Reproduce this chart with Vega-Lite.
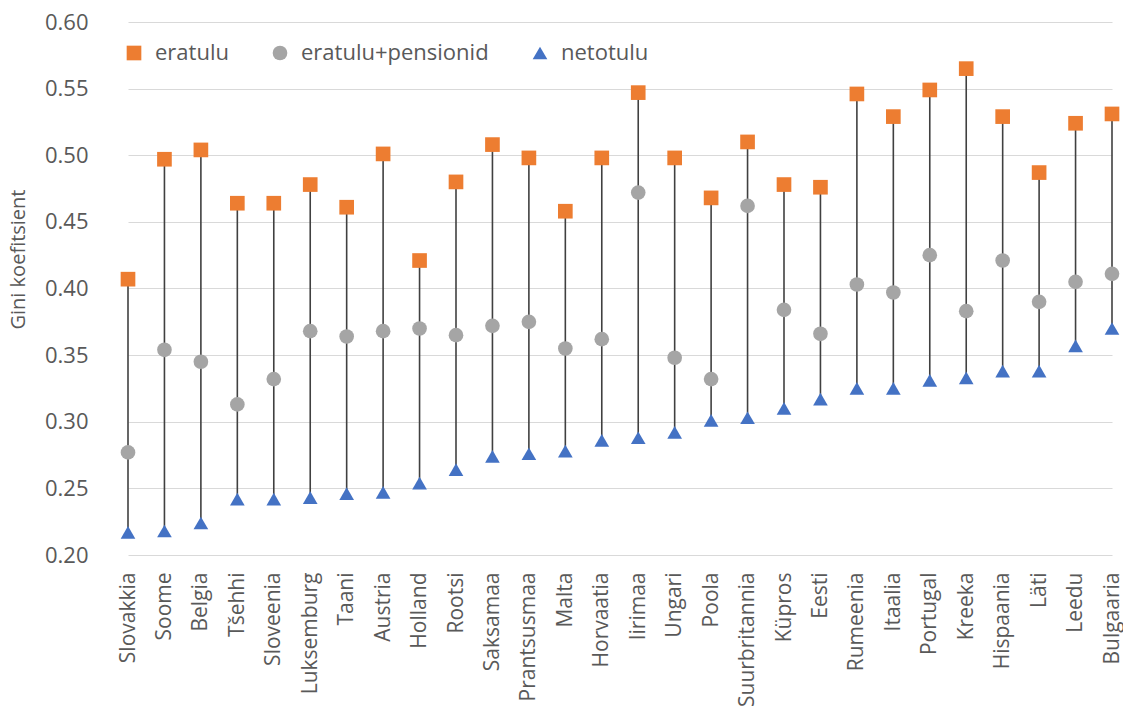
{
  "$schema": "https://vega.github.io/schema/vega-lite/v6.json",
  "width": 1013,
  "height": 533,
  "autosize": {"type": "none"},
  "padding": {"left": 110, "top": 22, "right": 0, "bottom": 152},
  "config": {
    "view": {"stroke": null},
    "font": "Open Sans",
    "axisY": {
      "grid": true, "gridColor": "#d9d9d9", "gridWidth": 1.2, "domain": false, "ticks": false,
      "labelPadding": 22, "labelFontSize": 22, "labelColor": "#595959",
      "titleFontSize": 20, "titleFontWeight": "normal", "titleColor": "#595959",
      "titleX": -92, "titleY": 237, "titleAngle": -90, "titleAlign": "center", "titleBaseline": "middle"
    },
    "axisX": {
      "grid": false, "domain": false, "ticks": false, "labelAngle": -90, "labelAlign": "right",
      "labelBaseline": "middle", "labelPadding": 17, "labelFontSize": 21, "labelColor": "#595959"
    },
    "legend": {
      "labelFontSize": 22, "labelColor": "#595959", "symbolSize": 215, "columnPadding": 40,
      "labelOffset": 10, "padding": 0, "symbolStrokeWidth": 0, "labelLimit": 0
    }
  },
  "data": {
    "values": [
      {"country": "Slovakkia", "eratulu": 0.407, "eratulu+pensionid": 0.277, "netotulu": 0.217},
      {"country": "Soome", "eratulu": 0.497, "eratulu+pensionid": 0.354, "netotulu": 0.218},
      {"country": "Belgia", "eratulu": 0.504, "eratulu+pensionid": 0.345, "netotulu": 0.224},
      {"country": "Tšehhi", "eratulu": 0.464, "eratulu+pensionid": 0.313, "netotulu": 0.242},
      {"country": "Sloveenia", "eratulu": 0.464, "eratulu+pensionid": 0.332, "netotulu": 0.242},
      {"country": "Luksemburg", "eratulu": 0.478, "eratulu+pensionid": 0.368, "netotulu": 0.243},
      {"country": "Taani", "eratulu": 0.461, "eratulu+pensionid": 0.364, "netotulu": 0.246},
      {"country": "Austria", "eratulu": 0.501, "eratulu+pensionid": 0.368, "netotulu": 0.247},
      {"country": "Holland", "eratulu": 0.421, "eratulu+pensionid": 0.370, "netotulu": 0.254},
      {"country": "Rootsi", "eratulu": 0.480, "eratulu+pensionid": 0.365, "netotulu": 0.264},
      {"country": "Saksamaa", "eratulu": 0.508, "eratulu+pensionid": 0.372, "netotulu": 0.274},
      {"country": "Prantsusmaa", "eratulu": 0.498, "eratulu+pensionid": 0.375, "netotulu": 0.276},
      {"country": "Malta", "eratulu": 0.458, "eratulu+pensionid": 0.355, "netotulu": 0.278},
      {"country": "Horvaatia", "eratulu": 0.498, "eratulu+pensionid": 0.362, "netotulu": 0.286},
      {"country": "Iirimaa", "eratulu": 0.547, "eratulu+pensionid": 0.472, "netotulu": 0.288},
      {"country": "Ungari", "eratulu": 0.498, "eratulu+pensionid": 0.348, "netotulu": 0.292},
      {"country": "Poola", "eratulu": 0.468, "eratulu+pensionid": 0.332, "netotulu": 0.301},
      {"country": "Suurbritannia", "eratulu": 0.510, "eratulu+pensionid": 0.462, "netotulu": 0.303},
      {"country": "Küpros", "eratulu": 0.478, "eratulu+pensionid": 0.384, "netotulu": 0.310},
      {"country": "Eesti", "eratulu": 0.476, "eratulu+pensionid": 0.366, "netotulu": 0.317},
      {"country": "Rumeenia", "eratulu": 0.546, "eratulu+pensionid": 0.403, "netotulu": 0.325},
      {"country": "Itaalia", "eratulu": 0.529, "eratulu+pensionid": 0.397, "netotulu": 0.325},
      {"country": "Portugal", "eratulu": 0.549, "eratulu+pensionid": 0.425, "netotulu": 0.331},
      {"country": "Kreeka", "eratulu": 0.565, "eratulu+pensionid": 0.383, "netotulu": 0.333},
      {"country": "Hispaania", "eratulu": 0.529, "eratulu+pensionid": 0.421, "netotulu": 0.338},
      {"country": "Läti", "eratulu": 0.487, "eratulu+pensionid": 0.390, "netotulu": 0.338},
      {"country": "Leedu", "eratulu": 0.524, "eratulu+pensionid": 0.405, "netotulu": 0.357},
      {"country": "Bulgaaria", "eratulu": 0.531, "eratulu+pensionid": 0.411, "netotulu": 0.370}
    ]
  },
  "encoding": {
    "x": {
      "field": "country", "type": "nominal", "sort": null, "title": null,
      "scale": {"type": "point", "range": [18, 1002], "padding": 0}
    }
  },
  "layer": [
    {
      "mark": {"type": "rule", "color": "#404040", "strokeWidth": 1.6},
      "encoding": {
        "y": {
          "field": "eratulu", "type": "quantitative", "title": "Gini koefitsient",
          "scale": {"domain": [0.2, 0.6], "nice": false, "zero": false},
          "axis": {"values": [0.2, 0.25, 0.3, 0.35, 0.4, 0.45, 0.5, 0.55, 0.6], "format": ".2f"}
        },
        "y2": {"field": "netotulu"}
      }
    },
    {
      "transform": [{"fold": ["eratulu", "eratulu+pensionid", "netotulu"], "as": ["series", "value"]}],
      "mark": {"type": "point", "filled": true, "opacity": 1},
      "encoding": {
        "y": {
          "field": "value", "type": "quantitative", "title": "Gini koefitsient",
          "scale": {"domain": [0.2, 0.6], "nice": false, "zero": false},
          "axis": {"values": [0.2, 0.25, 0.3, 0.35, 0.4, 0.45, 0.5, 0.55, 0.6], "format": ".2f"}
        },
        "color": {
          "field": "series", "type": "nominal",
          "scale": {"domain": ["eratulu", "eratulu+pensionid", "netotulu"], "range": ["#ED7D31", "#A5A5A5", "#4472C4"]},
          "legend": {"title": null, "orient": "none", "direction": "horizontal", "legendX": 13, "legendY": 20}
        },
        "shape": {
          "field": "series", "type": "nominal",
          "scale": {"domain": ["eratulu", "eratulu+pensionid", "netotulu"], "range": ["square", "circle", "triangle-up"]},
          "legend": {"title": null, "orient": "none", "direction": "horizontal", "legendX": 13, "legendY": 20}
        },
        "size": {
          "field": "series", "type": "nominal",
          "scale": {"domain": ["eratulu", "eratulu+pensionid", "netotulu"], "range": [215, 215, 290]},
          "legend": null
        }
      }
    }
  ]
}
